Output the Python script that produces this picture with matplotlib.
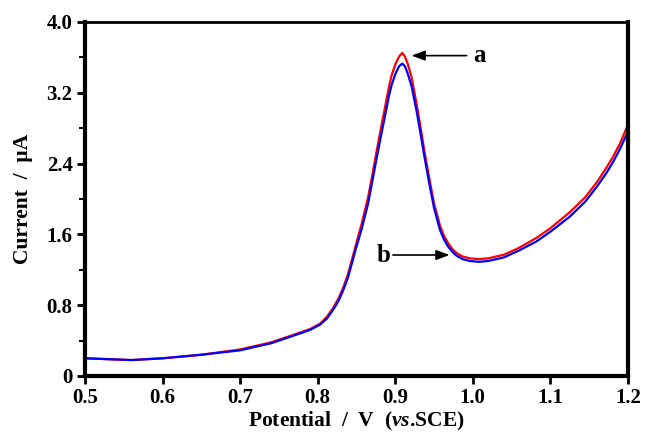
import matplotlib
matplotlib.use("Agg")
import matplotlib.pyplot as plt
from matplotlib.ticker import MultipleLocator, FuncFormatter

plt.rcParams['font.family'] = ['Liberation Serif', 'DejaVu Serif']
plt.rcParams['font.weight'] = 'bold'
plt.rcParams['mathtext.fontset'] = 'custom'
plt.rcParams['mathtext.rm'] = 'Liberation Serif:bold'
plt.rcParams['mathtext.it'] = 'Liberation Serif:italic:bold'

# potential (V vs. SCE) and currents (uA)
potential = [0.50, 0.53, 0.56, 0.60, 0.65, 0.70, 0.74, 0.777, 0.79, 0.803,
             0.812, 0.820, 0.827, 0.833, 0.839, 0.844, 0.848, 0.852, 0.857, 0.865,
             0.870, 0.876, 0.882, 0.888, 0.892, 0.8954, 0.9005, 0.905, 0.909, 0.9125,
             0.916, 0.9212, 0.9276, 0.933, 0.938, 0.944, 0.950, 0.9577, 0.963, 0.9683,
             0.974, 0.979, 0.987, 0.996, 1.008, 1.02, 1.04, 1.06, 1.082, 1.10,
             1.125, 1.145, 1.16, 1.172, 1.181, 1.19, 1.20]
current_a = [0.20, 0.19, 0.18, 0.20, 0.24, 0.30, 0.38, 0.49, 0.53, 0.59,
             0.67, 0.77, 0.88, 1.00, 1.15, 1.31, 1.44, 1.57, 1.73, 2.02,
             2.25, 2.54, 2.82, 3.09, 3.27, 3.40, 3.53, 3.61, 3.65, 3.61,
             3.53, 3.37, 3.07, 2.79, 2.52, 2.23, 1.95, 1.70, 1.58, 1.50,
             1.43, 1.39, 1.35, 1.33, 1.32, 1.33, 1.37, 1.45, 1.56, 1.67,
             1.85, 2.02, 2.19, 2.35, 2.48, 2.63, 2.84]
current_b = [0.20, 0.19, 0.18, 0.20, 0.24, 0.29, 0.37, 0.48, 0.52, 0.58,
             0.65, 0.75, 0.85, 0.97, 1.11, 1.27, 1.40, 1.52, 1.67, 1.95,
             2.18, 2.46, 2.73, 2.99, 3.17, 3.29, 3.42, 3.50, 3.53, 3.50,
             3.42, 3.27, 2.99, 2.72, 2.46, 2.17, 1.90, 1.65, 1.54, 1.46,
             1.40, 1.36, 1.32, 1.30, 1.29, 1.30, 1.34, 1.42, 1.52, 1.63,
             1.80, 1.97, 2.14, 2.29, 2.42, 2.57, 2.76]

fig = plt.figure(figsize=(6.46, 4.37), dpi=100)
ax = fig.add_axes([0.1316, 0.1396, 0.8404, 0.8101])

ax.plot(potential, current_a, color='#ff0000', lw=1.6, solid_joinstyle='round')
ax.plot(potential, current_b, color='#0000ff', lw=1.6, solid_joinstyle='round')

ax.set_xlim(0.5, 1.2)
ax.set_ylim(0, 4.0)
ax.xaxis.set_major_locator(MultipleLocator(0.1))
ax.yaxis.set_major_locator(MultipleLocator(0.8))
ax.yaxis.set_minor_locator(MultipleLocator(0.4))
ax.yaxis.set_major_formatter(FuncFormatter(lambda v, p: '0' if abs(v) < 1e-9 else f'{v:.1f}'))
ax.xaxis.set_major_formatter(FuncFormatter(lambda v, p: f'{v:.1f}'))

ax.tick_params(which='major', direction='out', length=6, width=2, labelsize=15, pad=3)
ax.tick_params(which='minor', direction='out', length=4, width=1.5)
for side, w in [('left', 3), ('bottom', 3), ('top', 2), ('right', 3)]:
    ax.spines[side].set_linewidth(w)

ax.set_xlabel('Potential  /  V  ($\\mathit{vs}$.SCE)', fontsize=15.5, fontweight='bold', labelpad=1)
ax.set_ylabel('Current  /  \u03bcA', fontsize=15.5, fontweight='bold', labelpad=10)

arrow = dict(arrowstyle='-|>,head_length=0.8,head_width=0.3', color='black', lw=1.2,
             shrinkA=0, shrinkB=0)
ax.annotate('', xy=(0.921, 3.62), xytext=(0.992, 3.62), arrowprops=arrow)
ax.text(1.0, 3.62, 'a', fontsize=18, fontweight='bold', va='center', ha='left')
ax.annotate('', xy=(0.970, 1.367), xytext=(0.897, 1.367), arrowprops=arrow)
ax.text(0.894, 1.367, 'b', fontsize=18, fontweight='bold', va='center', ha='right')

fig.savefig('out.png', dpi=100)
